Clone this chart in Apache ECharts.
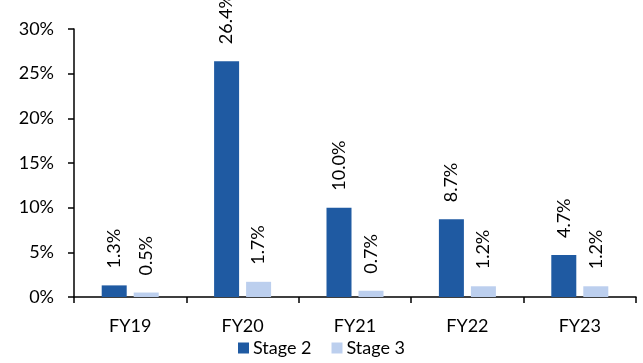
<!DOCTYPE html>
<html>
<head>
<meta charset="utf-8">
<script src="https://cdn.jsdelivr.net/npm/echarts@6/dist/echarts.min.js"></script>
<style>
  html, body { margin: 0; padding: 0; background: #fff; }
  #chart { width: 643px; height: 363px; }
</style>
</head>
<body>
<div id="chart"></div>
<script>
// Fiscal years on the category axis
const categories = ['FY19', 'FY20', 'FY21', 'FY22', 'FY23'];
// Share of book by stage, in percent
const stage2 = [1.3, 26.4, 10.0, 8.7, 4.7];
const stage3 = [0.5, 1.7, 0.7, 1.2, 1.2];
const seriesNames = ['Stage 2', 'Stage 3'];

const FONT = 'Lato, "Open Sans", sans-serif';
const FS = 18;
const chart = echarts.init(document.getElementById('chart'), null, { renderer: 'canvas' });

const barLabel = {
  show: true,
  position: 'top',
  rotate: 90,
  align: 'left',
  verticalAlign: 'middle',
  distance: 17,
  fontFamily: FONT,
  fontSize: FS,
  color: '#000',
  formatter: p => p.value.toFixed(1) + '%'
};

chart.setOption({
  animation: false,
  textStyle: { fontFamily: FONT },
  grid: { left: 74, right: 7, top: 29, bottom: 66 },
  legend: {
    bottom: 1,
    left: 'center',
    itemWidth: 11,
    itemHeight: 11,
    itemGap: 20,
    icon: 'rect',
    textStyle: { fontFamily: FONT, fontSize: FS, color: '#000', padding: [0, 0, 0, -1] },
    data: seriesNames
  },
  xAxis: {
    type: 'category',
    data: categories,
    axisLine: { lineStyle: { color: '#000', width: 1.5 } },
    axisTick: { show: true, length: 6, lineStyle: { color: '#000', width: 1.5 } },
    axisLabel: { color: '#000', fontSize: FS, fontFamily: FONT, margin: 20 }
  },
  yAxis: {
    type: 'value',
    min: 0,
    max: 30,
    interval: 5,
    axisLine: { show: true, lineStyle: { color: '#000', width: 1.5 } },
    axisTick: { show: true, inside: false, length: 6, lineStyle: { color: '#000', width: 1.5 } },
    splitLine: { show: false },
    axisLabel: { color: '#000', fontSize: FS, fontFamily: FONT, margin: 20, formatter: '{value}%' }
  },
  series: [
    {
      name: seriesNames[0],
      type: 'bar',
      data: stage2,
      barWidth: 25,
      barGap: '28%',
      itemStyle: { color: '#1F5AA2' },
      label: barLabel
    },
    {
      name: seriesNames[1],
      type: 'bar',
      data: stage3,
      barWidth: 25,
      itemStyle: { color: '#BCCFEE' },
      label: barLabel
    }
  ]
});
</script>
</body>
</html>
